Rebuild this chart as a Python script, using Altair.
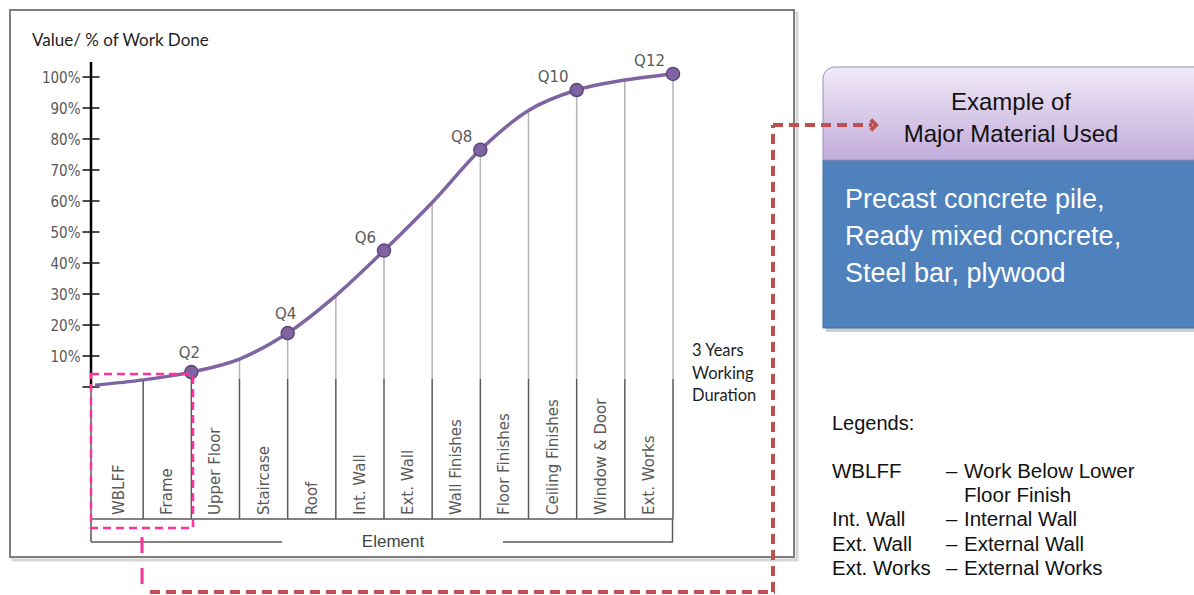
import altair as alt
import pandas as pd

# --- values -------------------------------------------------------------
quarters = list(range(13))
work_done = [0.6, 2.3, 4.8, 9.0, 17.4, 29.5, 44.0, 59.5, 76.5, 89.2, 95.8, 99.0, 101.0]
milestone_quarters = [2, 4, 6, 8, 10, 12]
elements = ["WBLFF", "Frame", "Upper Floor", "Staircase", "Roof", "Int. Wall",
            "Ext. Wall", "Wall Finishes", "Floor Finishes", "Ceiling Finishes",
            "Window & Door", "Ext. Works"]
y_ticks = [0, 10, 20, 30, 40, 50, 60, 70, 80, 90, 100]

axis_title = "Value/ % of  Work Done"
x_title = "Element"
duration_lines = ["3 Years", "Working", "Duration"]
box_heading = ["Example of", "Major Material Used"]
materials = ["Precast concrete pile,", "Ready mixed concrete,", "Steel bar, plywood"]
legend_heading = "Legends:"
legend_abbrev = ["WBLFF", "", "Int. Wall", "Ext. Wall", "Ext. Works"]
legend_dash = ["\u2013", "", "\u2013", "\u2013", "\u2013"]
legend_meaning = ["Work Below Lower", "Floor Finish", "Internal Wall",
                  "External Wall", "External Works"]

# --- tables -------------------------------------------------------------
curve = pd.DataFrame({"quarter": quarters, "work_done": work_done})
curve["milestone"] = curve["quarter"].isin(milestone_quarters)
curve["label"] = "Q" + curve["quarter"].astype(str)
columns = pd.DataFrame({"element": elements, "start": list(range(len(elements)))})
ticks = pd.DataFrame({"tick": y_ticks})
one = alt.Data(values=[{"k": 0}])

# --- styling ------------------------------------------------------------
PURPLE = "#8064a2"
GREY_TXT = "#595959"
TABLE = "#5a5a5a"
RED = "#c0504d"
PINK = "#ff3399"
GOTHIC = "DejaVu Sans"
GOTHIC_C = "DejaVu Sans Condensed"
ARIAL = "Liberation Sans"

X = alt.Scale(domain=[0, 12], range=[95, 673], nice=False, zero=False)
Y = alt.Scale(domain=[0, 100], range=[387, 77], nice=False, zero=False)
Y_AXIS = alt.Axis(title=None, offset=-91, domain=False, ticks=False, grid=False,
                  values=y_ticks[1:], labelExpr="datum.value + '%'", zindex=2,
                  labelPadding=11, labelFont=GOTHIC_C, labelFontSize=15,
                  labelColor=GREY_TXT)
xq = alt.X("quarter:Q", scale=X, axis=None)
yw = alt.Y("work_done:Q", scale=Y, axis=Y_AXIS)

layers = []

# outer frame
layers.append(alt.Chart(one).mark_rect(fill="white", stroke="#d6d6d6", strokeWidth=3).encode(
    x=alt.value(13), x2=alt.value(797), y=alt.value(13), y2=alt.value(560)))
layers.append(alt.Chart(one).mark_rect(fill="white", stroke="#7f7f7f", strokeWidth=2).encode(
    x=alt.value(10), x2=alt.value(794), y=alt.value(10), y2=alt.value(557)))

# light drop lines from the curve to the table
drops = alt.Chart(curve).transform_filter("datum.quarter >= 1")
layers.append(drops.mark_rule(color="#b4b4b4", strokeWidth=1.5).encode(
    x=xq, y=yw, y2=alt.value(379)))
# element table: column dividers, top edge and bracket
layers.append(drops.mark_rule(color=TABLE, strokeWidth=1.5).encode(
    x=xq, y=alt.value(379), y2=alt.value(519)))
layers.append(alt.Chart(one).mark_rule(color=TABLE, strokeWidth=1.5).encode(
    x=alt.value(91), x2=alt.value(673), y=alt.value(519)))
layers.append(alt.Chart(one).mark_rule(color=TABLE, strokeWidth=1.5).encode(
    x=alt.value(91), x2=alt.value(282), y=alt.value(542)))
layers.append(alt.Chart(one).mark_rule(color=TABLE, strokeWidth=1.5).encode(
    x=alt.value(503), x2=alt.value(673), y=alt.value(542)))
layers.append(alt.Chart(one).mark_rule(color=TABLE, strokeWidth=1.5).encode(
    x=alt.value(672.5), y=alt.value(519), y2=alt.value(542)))
layers.append(alt.Chart(one).mark_rule(color=TABLE, strokeWidth=1.5).encode(
    x=alt.value(91), y=alt.value(387), y2=alt.value(542)))
layers.append(alt.Chart(one).mark_text(font=ARIAL, fontSize=17, color="#444444").encode(
    x=alt.value(393), y=alt.value(542), text=alt.value(x_title)))

# element names, rotated inside their columns
layers.append(alt.Chart(columns).transform_calculate(mid="datum.start + 0.5").mark_text(
    angle=270, align="left", baseline="middle", font=GOTHIC, fontSize=15,
    color=GREY_TXT).encode(
    x=alt.X("mid:Q", scale=X, axis=None), y=alt.value(515), text="element:N"))

# y axis line and crossing ticks
layers.append(alt.Chart(one).mark_rule(color="black", strokeWidth=2.5).encode(
    x=alt.value(91), y=alt.value(62), y2=alt.value(388)))
layers.append(alt.Chart(ticks).mark_tick(orient="horizontal", size=17, thickness=2,
                                         color="black").encode(
    x=alt.value(91), y=alt.Y("tick:Q", scale=Y, axis=Y_AXIS)))
layers.append(alt.Chart(one).mark_text(align="left", baseline="middle", font="Lato",
                                       fontSize=17, color="#1f1f1f").encode(
    x=alt.value(32), y=alt.value(41), text=alt.value(axis_title)))

# S-curve with quarterly milestones
layers.append(alt.Chart(curve).mark_line(interpolate="monotone", color=PURPLE,
                                         strokeWidth=3.5).encode(x=xq, y=yw))
ms = alt.Chart(curve).transform_filter("datum.milestone")
layers.append(ms.mark_circle(size=170, color=PURPLE, opacity=1, stroke="#5b477a",
                             strokeWidth=1.5).encode(x=xq, y=yw))
layers.append(ms.transform_filter("datum.quarter <= 4").mark_text(
    align="center", baseline="middle", dx=-2, dy=-19, font=GOTHIC, fontSize=15,
    color=GREY_TXT).encode(x=xq, y=yw, text="label:N"))
layers.append(ms.transform_filter("datum.quarter >= 6").mark_text(
    align="right", baseline="middle", dx=-8, dy=-13, font=GOTHIC, fontSize=15,
    color=GREY_TXT).encode(x=xq, y=yw, text="label:N"))

# duration note
layers.append(alt.Chart(one).mark_text(align="left", baseline="top", font="Lato",
                                       fontSize=16.5, lineHeight=22.5, color="#1f1f1f").encode(
    x=alt.value(692), y=alt.value(343), text=alt.value(duration_lines)))

# highlighted first two elements and connector to the material box
layers.append(alt.Chart(one).mark_rect(fillOpacity=0, stroke=PINK, strokeWidth=2.5,
                                       strokeDash=[8, 5]).encode(
    x=alt.value(91), x2=alt.value(193), y=alt.value(374), y2=alt.value(528)))
layers.append(alt.Chart(one).mark_rule(color=PINK, strokeWidth=3, strokeDash=[16, 15]).encode(
    x=alt.value(142), y=alt.value(537), y2=alt.value(588)))
layers.append(alt.Chart(one).mark_rule(color=RED, strokeWidth=4, strokeDash=[10, 6]).encode(
    x=alt.value(150), x2=alt.value(775), y=alt.value(592)))
layers.append(alt.Chart(one).mark_rule(color=RED, strokeWidth=4, strokeDash=[10, 6]).encode(
    x=alt.value(773), y=alt.value(592), y2=alt.value(125)))

# material box
layers.append(alt.Chart(one).mark_rect(fill="#cfcfcf").encode(
    x=alt.value(826), x2=alt.value(1200), y=alt.value(163), y2=alt.value(332)))
layers.append(alt.Chart(one).mark_rect(fill="#4f81bd", stroke="#3f6ea5", strokeWidth=1).encode(
    x=alt.value(823), x2=alt.value(1200), y=alt.value(160), y2=alt.value(328)))
header_fill = alt.Gradient(gradient="linear", x1=0, y1=0, x2=0, y2=1, stops=[
    alt.GradientStop(color="#f0eaf7", offset=0), alt.GradientStop(color="#c3acdb", offset=1)])
layers.append(alt.Chart(one).mark_rect(fill=header_fill, stroke="#9c88bb", strokeWidth=1,
                                       cornerRadiusTopLeft=12).encode(
    x=alt.value(823), x2=alt.value(1200), y=alt.value(67), y2=alt.value(160)))
layers.append(alt.Chart(one).mark_text(align="center", baseline="top", font=ARIAL,
                                       fontSize=24, lineHeight=31.5, color="#111111").encode(
    x=alt.value(1011), y=alt.value(91), text=alt.value(box_heading)))
layers.append(alt.Chart(one).mark_text(align="left", baseline="top", font=ARIAL,
                                       fontSize=27, lineHeight=37, color="white").encode(
    x=alt.value(845), y=alt.value(187), text=alt.value(materials)))
layers.append(alt.Chart(one).mark_rule(color=RED, strokeWidth=4, strokeDash=[10, 6]).encode(
    x=alt.value(773), x2=alt.value(872), y=alt.value(125)))
layers.append(alt.Chart(one).mark_point(shape="M -1 -1 L 0 0 L -1 1", filled=False,
                                        stroke=RED, strokeWidth=4, size=110, opacity=1).encode(
    x=alt.value(876), y=alt.value(125)))

# abbreviation key, one text row per entry
layers.append(alt.Chart(one).mark_text(align="left", baseline="top", font=ARIAL,
                                       fontSize=20, color="#111111").encode(
    x=alt.value(832), y=alt.value(414), text=alt.value(legend_heading)))
ROW_TOP, ROW_STEP = 462, 24.2
for xpos, lines in [(832, legend_abbrev), (946, legend_dash), (964, legend_meaning)]:
    for i, line in enumerate(lines):
        if not line:
            continue
        layers.append(alt.Chart(one).mark_text(align="left", baseline="top", font=ARIAL,
                                               fontSize=20.5, color="#111111").encode(
            x=alt.value(xpos), y=alt.value(ROW_TOP + i * ROW_STEP), text=alt.value(line)))

chart = alt.layer(*layers).properties(
    width=1194, height=595, padding=0, background="white",
    autosize=alt.AutoSizeParams(type="none"),
).configure_view(stroke=None)

chart.save("out.html", embed_options={"renderer": "svg", "actions": False})
